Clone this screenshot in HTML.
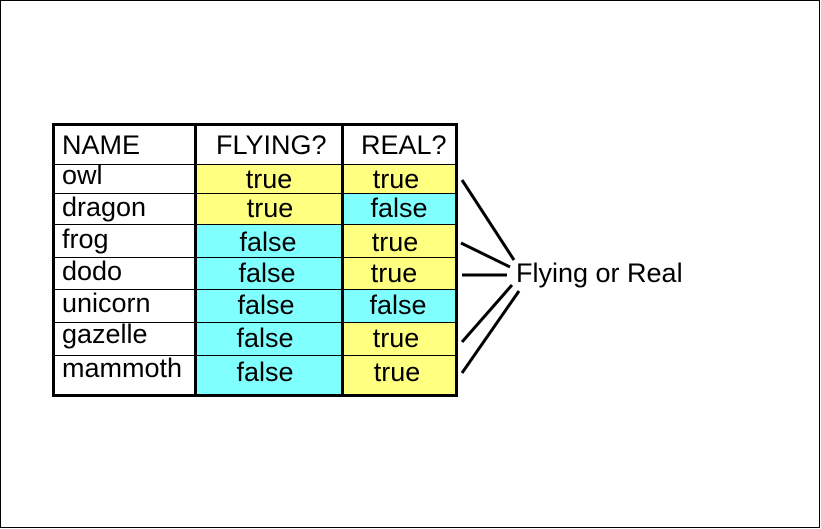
<!DOCTYPE html>
<html><head><style>
html,body{margin:0;padding:0;background:#fff;}
svg{display:block;}
text{font-family:"Liberation Sans",Arial,sans-serif;font-size:27px;fill:#000;}
</style></head><body>
<svg width="821" height="529" viewBox="0 0 821 529" xmlns="http://www.w3.org/2000/svg">
<rect x="0.5" y="0.5" width="819" height="527" fill="#fff" stroke="#000" stroke-width="1"/>
<rect x="195" y="164" width="148" height="60" fill="#ffff80"/>
<rect x="195" y="224" width="148" height="172" fill="#80ffff"/>
<rect x="343" y="164" width="114" height="29" fill="#ffff80"/>
<rect x="343" y="193" width="114" height="31" fill="#80ffff"/>
<rect x="343" y="224" width="114" height="65" fill="#ffff80"/>
<rect x="343" y="289" width="114" height="33" fill="#80ffff"/>
<rect x="343" y="322" width="114" height="74" fill="#ffff80"/>
<g stroke="#000" stroke-width="1">
<line x1="52" y1="164.5" x2="457" y2="164.5"/>
<line x1="52" y1="193.5" x2="457" y2="193.5"/>
<line x1="52" y1="224.5" x2="457" y2="224.5"/>
<line x1="52" y1="257.5" x2="457" y2="257.5"/>
<line x1="52" y1="289.5" x2="457" y2="289.5"/>
<line x1="52" y1="322.5" x2="457" y2="322.5"/>
<line x1="52" y1="355.5" x2="457" y2="355.5"/>
</g>
<g stroke="#000" stroke-width="3" fill="none">
<rect x="53.5" y="124.5" width="403" height="271"/>
<line x1="195.5" y1="124" x2="195.5" y2="396"/>
<line x1="342.5" y1="124" x2="342.5" y2="396"/>
</g>
<text x="62" y="154" font-size="28">NAME</text>
<text x="216" y="154" font-size="28">FLYING?</text>
<text x="361" y="154" font-size="28">REAL?</text>
<text x="62" y="184">owl</text>
<text x="62" y="216">dragon</text>
<text x="62" y="248">frog</text>
<text x="62" y="280">dodo</text>
<text x="62" y="312">unicorn</text>
<text x="62" y="343">gazelle</text>
<text x="62" y="377">mammoth</text>
<g text-anchor="middle">
<text x="269" y="188">true</text>
<text x="270" y="217">true</text>
<text x="268" y="251">false</text>
<text x="267" y="282">false</text>
<text x="266" y="314">false</text>
<text x="265" y="347">false</text>
<text x="265" y="381">false</text>
<text x="396" y="188">true</text>
<text x="399" y="217">false</text>
<text x="395" y="251">true</text>
<text x="394" y="282">true</text>
<text x="398" y="314">false</text>
<text x="396" y="347">true</text>
<text x="397" y="381">true</text>
</g>
<g stroke="#000" stroke-width="3">
<line x1="462" y1="180" x2="514" y2="260"/>
<line x1="461" y1="243" x2="510" y2="267"/>
<line x1="462" y1="275" x2="507" y2="275"/>
<line x1="462" y1="342" x2="512" y2="285"/>
<line x1="462" y1="373" x2="519" y2="291"/>
</g>
<text x="516" y="282" font-size="28">Flying or Real</text>
</svg>
</body></html>
